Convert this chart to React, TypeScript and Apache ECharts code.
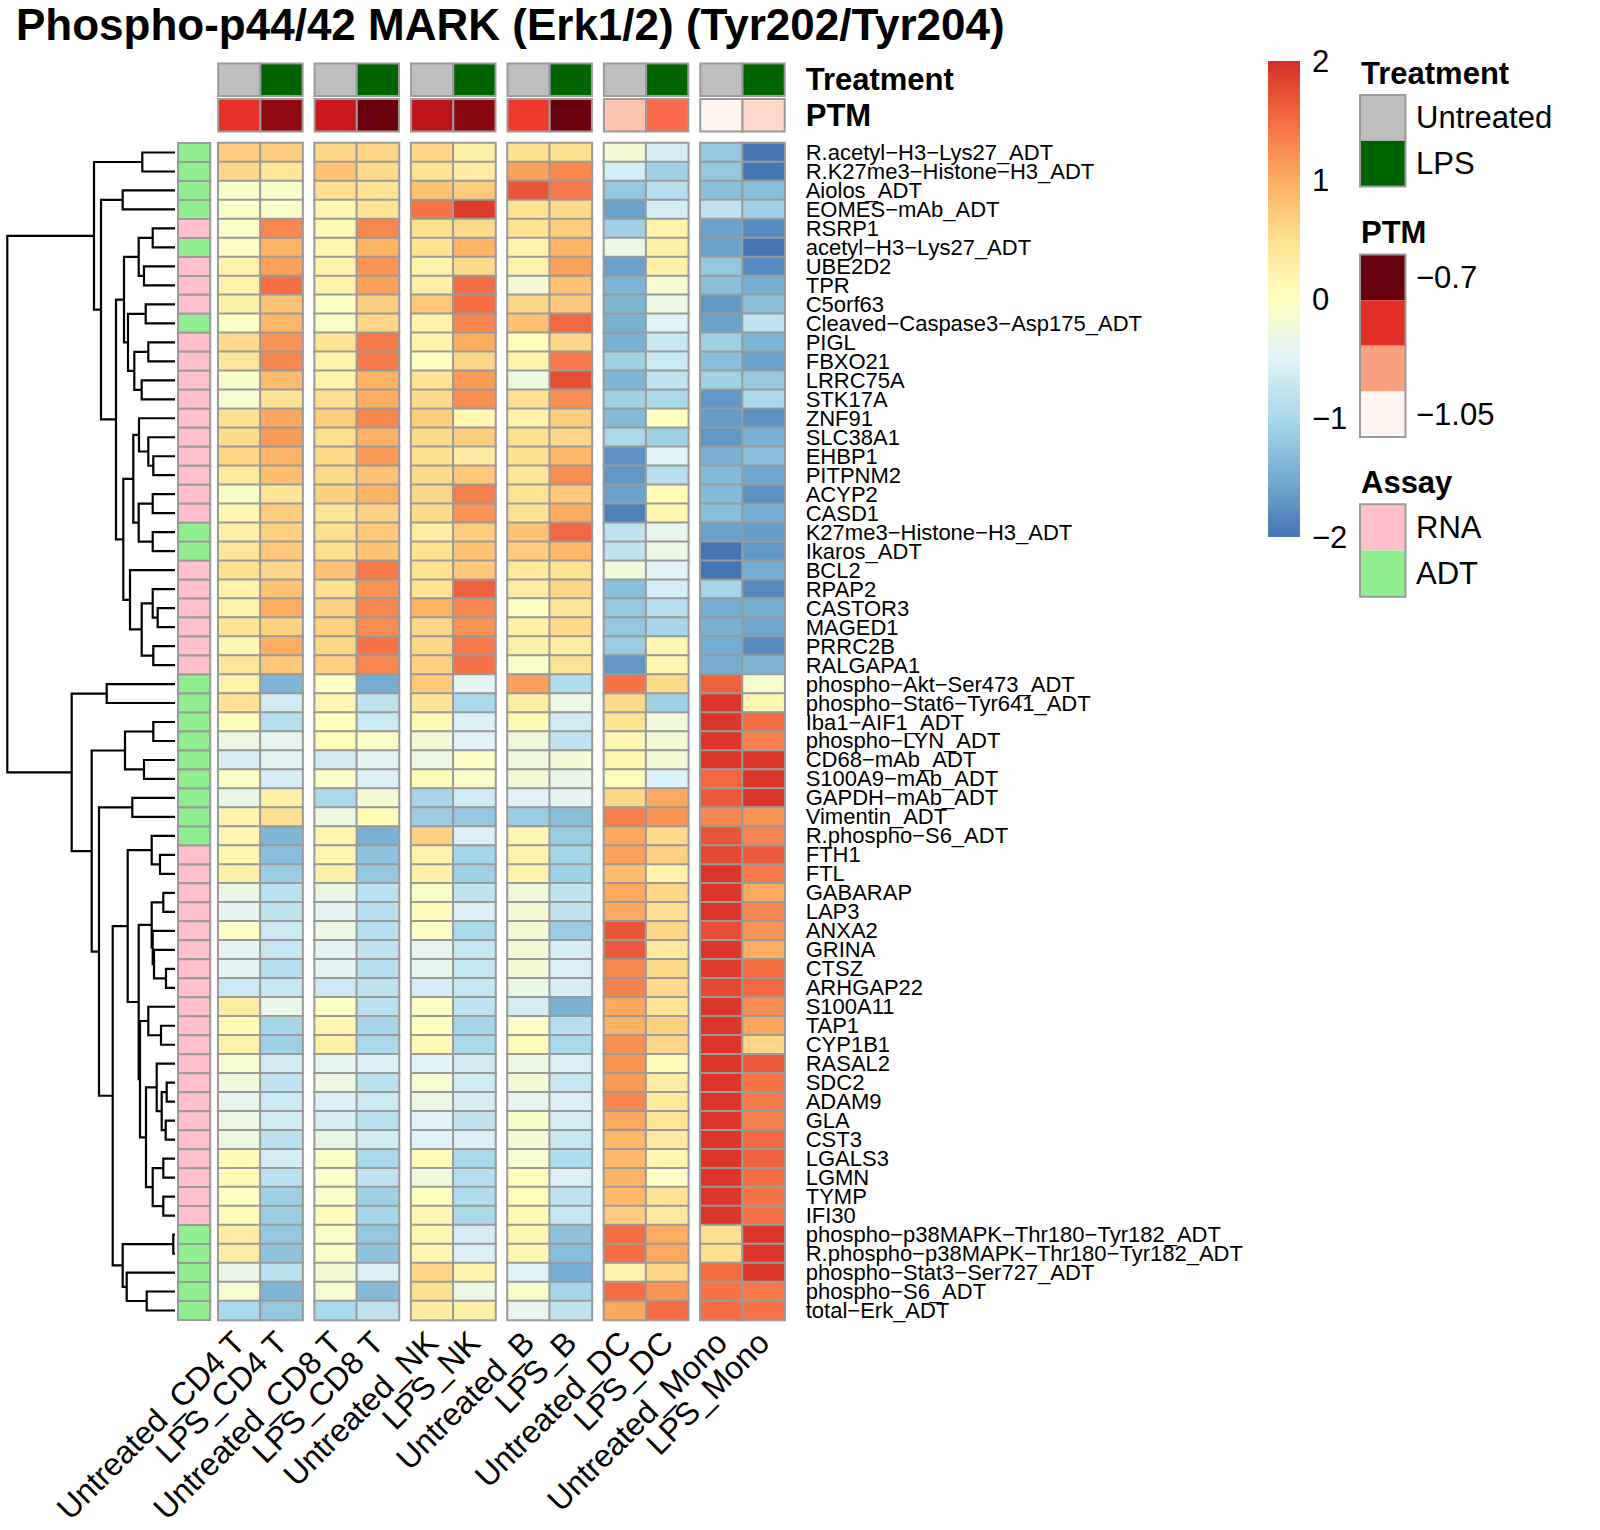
import React, { useEffect, useRef } from "react";
import * as echarts from "echarts";

// ---------------- data ----------------
const TITLE = "Phospho-p44/42 MARK (Erk1/2) (Tyr202/Tyr204)";

const columns = [
  "Untreated_CD4 T", "LPS_CD4 T", "Untreated_CD8 T", "LPS_CD8 T",
  "Untreated_NK", "LPS_NK", "Untreated_B", "LPS_B",
  "Untreated_DC", "LPS_DC", "Untreated_Mono", "LPS_Mono",
];

const treatment = [
  "Untreated", "LPS", "Untreated", "LPS", "Untreated", "LPS",
  "Untreated", "LPS", "Untreated", "LPS", "Untreated", "LPS",
];

const ptmValues = [-0.819, -0.728, -0.788, -0.703, -0.77, -0.724, -0.83, -0.703, -0.973, -0.875, -1.047, -0.998];

const M = "\u2212";
const rowNames = [
  `R.acetyl${M}H3${M}Lys27_ADT`, `R.K27me3${M}Histone${M}H3_ADT`, "Aiolos_ADT", `EOMES${M}mAb_ADT`,
  "RSRP1", `acetyl${M}H3${M}Lys27_ADT`, "UBE2D2", "TPR", "C5orf63", `Cleaved${M}Caspase3${M}Asp175_ADT`,
  "PIGL", "FBXO21", "LRRC75A", "STK17A", "ZNF91", "SLC38A1", "EHBP1", "PITPNM2", "ACYP2", "CASD1",
  `K27me3${M}Histone${M}H3_ADT`, "Ikaros_ADT", "BCL2", "RPAP2", "CASTOR3", "MAGED1", "PRRC2B", "RALGAPA1",
  `phospho${M}Akt${M}Ser473_ADT`, `phospho${M}Stat6${M}Tyr641_ADT`, `Iba1${M}AIF1_ADT`, `phospho${M}LYN_ADT`,
  `CD68${M}mAb_ADT`, `S100A9${M}mAb_ADT`, `GAPDH${M}mAb_ADT`, "Vimentin_ADT", `R.phospho${M}S6_ADT`,
  "FTH1", "FTL", "GABARAP", "LAP3", "ANXA2", "GRINA", "CTSZ", "ARHGAP22", "S100A11", "TAP1", "CYP1B1",
  "RASAL2", "SDC2", "ADAM9", "GLA", "CST3", "LGALS3", "LGMN", "TYMP", "IFI30",
  `phospho${M}p38MAPK${M}Thr180${M}Tyr182_ADT`, `R.phospho${M}p38MAPK${M}Thr180${M}Tyr182_ADT`,
  `phospho${M}Stat3${M}Ser727_ADT`, `phospho${M}S6_ADT`, `total${M}Erk_ADT`,
];

const assay = [
  "ADT", "ADT", "ADT", "ADT", "RNA", "ADT", "RNA", "RNA", "RNA", "ADT",
  "RNA", "RNA", "RNA", "RNA", "RNA", "RNA", "RNA", "RNA", "RNA", "RNA",
  "ADT", "ADT", "RNA", "RNA", "RNA", "RNA", "RNA", "RNA",
  "ADT", "ADT", "ADT", "ADT", "ADT", "ADT", "ADT", "ADT", "ADT",
  "RNA", "RNA", "RNA", "RNA", "RNA", "RNA", "RNA", "RNA", "RNA", "RNA", "RNA",
  "RNA", "RNA", "RNA", "RNA", "RNA", "RNA", "RNA", "RNA", "RNA",
  "ADT", "ADT", "ADT", "ADT", "ADT",
];

// rows x 12 columns (z-scores)
const values = [
  [0.7, 0.7, 0.6, 0.6, 0.6, 0.25, 0.5, 0.5, -0.2, -0.6, -1.2, -2.0],
  [0.6, 0.4, 0.8, 0.55, 0.45, 0.3, 1.1, 1.3, -0.6, -1.1, -1.2, -2.0],
  [-0.1, -0.1, 0.5, 0.45, 0.8, 0.7, 1.7, 1.4, -1.2, -0.9, -1.3, -1.3],
  [-0.1, -0.1, 0.15, 0.45, 1.45, 1.9, 0.45, 0.55, -1.6, -0.6, -0.8, -1.1],
  [-0.05, 1.3, 0.1, 1.3, 0.5, 0.55, 0.45, 0.7, -1.1, 0.2, -1.6, -1.8],
  [-0.05, 0.95, 0.15, 0.95, 0.45, 0.95, 0.2, 0.95, -0.3, 0.25, -1.6, -2.0],
  [0.2, 1.1, 0.2, 1.2, 0.2, 0.55, 0.2, 1.1, -1.6, 0.25, -1.2, -1.8],
  [0.2, 1.5, 0.2, 1.1, 0.25, 1.5, -0.2, 0.8, -1.4, -0.15, -1.3, -1.5],
  [0.25, 0.8, -0.05, 0.7, 0.75, 1.5, 0.6, 0.75, -1.4, -0.3, -1.7, -1.3],
  [-0.05, 0.9, -0.1, 0.6, 0.2, 1.3, 0.8, 1.55, -1.45, -0.5, -1.6, -0.8],
  [0.55, 1.2, 0.45, 1.4, 0.2, 1.0, 0.05, 0.6, -1.45, -0.75, -1.1, -1.4],
  [0.4, 1.3, 0.2, 1.4, 0.0, 0.6, 0.2, 1.4, -1.1, -0.7, -1.3, -1.6],
  [-0.1, 0.85, 0.2, 0.95, 0.45, 1.15, -0.3, 1.75, -1.4, -0.8, -1.1, -1.2],
  [-0.15, 0.45, 0.5, 1.0, 0.55, 1.25, 0.45, 1.25, -1.1, -1.0, -1.7, -1.0],
  [0.5, 1.05, 0.7, 1.3, 0.7, 0.15, 0.2, 0.7, -1.35, 0.0, -1.65, -1.75],
  [0.55, 1.15, 0.5, 0.95, 0.55, 0.7, 0.5, 0.6, -1.0, -1.1, -1.7, -1.45],
  [0.6, 0.95, 0.55, 1.15, 0.5, 0.3, 0.5, 0.9, -1.75, -0.5, -1.45, -1.3],
  [0.35, 0.85, 0.55, 0.8, 0.55, 0.75, 0.4, 1.25, -1.7, -0.9, -1.35, -1.55],
  [-0.1, 0.4, 0.65, 0.95, 0.6, 1.35, 0.45, 0.75, -1.6, 0.05, -1.35, -1.75],
  [0.15, 0.7, 0.4, 0.65, 0.55, 1.2, 0.45, 1.0, -1.9, 0.15, -1.3, -1.5],
  [0.25, 0.65, 0.5, 0.75, 0.3, 0.7, 0.8, 1.55, -0.8, -0.4, -1.6, -1.65],
  [0.4, 0.75, 0.5, 0.8, 0.45, 0.8, 0.7, 0.9, -0.8, -0.3, -2.0, -1.7],
  [0.5, 0.6, 0.8, 1.4, 0.45, 0.75, 0.35, 0.45, -0.25, -0.5, -2.0, -1.5],
  [0.2, 0.8, 0.5, 1.2, 0.45, 1.6, 0.3, 0.6, -1.3, -0.6, -1.05, -1.8],
  [0.2, 1.0, 0.65, 1.3, 0.95, 1.3, -0.05, 0.4, -1.2, -0.9, -1.5, -1.5],
  [0.45, 0.65, 0.65, 1.25, 0.6, 1.2, 0.25, 0.55, -1.2, -1.05, -1.45, -1.55],
  [0.15, 1.0, 0.6, 1.45, 0.6, 1.4, 0.25, 0.3, -1.15, 0.15, -1.5, -1.8],
  [0.4, 0.75, 0.65, 1.3, 0.65, 1.45, -0.1, 0.45, -1.7, 0.15, -1.5, -1.4],
  [0.2, -1.4, -0.05, -1.5, 0.75, -0.45, 1.1, -0.95, 1.45, 0.55, 1.6, -0.15],
  [0.45, -0.65, 0.15, -0.8, 0.4, -1.0, 0.3, -0.3, 0.55, -1.1, 1.95, 0.15],
  [0.05, -0.9, 0.0, -0.7, 0.1, -0.55, 0.1, -0.65, 0.45, -0.25, 1.95, 1.5],
  [-0.3, -0.4, 0.05, -0.05, -0.2, -0.5, -0.25, -0.8, 0.15, -0.2, 1.95, 1.35],
  [-0.6, -0.45, -0.65, -0.45, -0.3, -0.05, -0.25, -0.2, 0.15, -0.2, 1.95, 1.95],
  [-0.05, -0.6, -0.05, -0.55, 0.05, -0.1, -0.2, -0.35, 0.05, -0.55, 1.55, 1.95],
  [-0.35, 0.25, -1.0, -0.2, -1.05, -0.65, -0.5, -0.45, 0.6, 1.05, 1.65, 1.95],
  [0.2, 0.5, -0.3, 0.05, -1.15, -1.2, -1.15, -1.3, 1.35, 1.2, 1.3, 1.2],
  [0.15, -1.4, 0.15, -1.45, 0.65, -0.55, 0.15, -1.15, 1.05, 0.55, 1.7, 1.3],
  [0.15, -1.3, 0.15, -1.25, 0.2, -1.05, 0.2, -1.05, 1.1, 0.65, 1.8, 1.65],
  [0.25, -1.15, 0.25, -1.2, 0.25, -1.1, 0.2, -1.1, 0.85, 0.2, 1.95, 1.4],
  [-0.35, -0.85, -0.35, -0.85, -0.1, -0.8, -0.25, -0.8, 1.05, 0.6, 1.95, 1.05],
  [-0.45, -0.8, -0.45, -0.9, 0.05, -0.55, -0.2, -0.8, 1.05, 0.5, 1.95, 1.3],
  [-0.05, -0.7, -0.3, -0.9, -0.05, -1.0, -0.2, -1.15, 1.7, 0.6, 1.75, 1.2],
  [-0.45, -0.75, -0.45, -0.8, -0.4, -0.75, -0.2, -0.6, 1.65, 0.35, 1.95, 1.0],
  [-0.45, -0.9, -0.45, -0.9, -0.4, -0.75, -0.2, -0.55, 1.3, 0.55, 1.9, 1.5],
  [-0.7, -0.75, -0.7, -0.8, -0.6, -0.75, -0.35, -0.6, 1.35, 0.55, 1.8, 1.55],
  [0.3, -0.35, -0.05, -0.85, -0.05, -0.8, -0.6, -1.45, 1.05, 0.4, 1.95, 1.25],
  [0.1, -1.05, 0.15, -1.05, 0.0, -1.05, -0.05, -0.9, 0.95, 0.65, 1.95, 1.05],
  [0.2, -1.1, 0.25, -1.0, 0.1, -1.0, 0.05, -1.0, 1.25, 0.6, 1.95, 0.6],
  [-0.15, -0.65, -0.4, -0.55, -0.5, -0.65, -0.3, -0.55, 1.2, 0.05, 1.95, 1.65],
  [-0.25, -0.8, -0.3, -0.85, -0.15, -0.65, -0.2, -0.75, 1.15, 0.3, 1.95, 1.45],
  [-0.4, -0.7, -0.55, -0.7, -0.3, -0.6, -0.4, -0.55, 1.3, 0.35, 1.95, 1.4],
  [-0.3, -0.65, -0.6, -0.85, -0.5, -0.8, -0.1, -0.6, 1.05, 0.4, 1.95, 1.35],
  [-0.3, -0.85, -0.35, -0.65, -0.5, -0.55, -0.2, -0.75, 0.9, 0.35, 1.95, 1.55],
  [0.1, -0.6, -0.1, -1.0, 0.05, -1.0, -0.15, -0.95, 0.9, 0.15, 1.95, 1.6],
  [0.1, -0.85, -0.1, -0.8, -0.25, -0.9, 0.05, -0.55, 0.95, -0.05, 1.95, 1.5],
  [-0.05, -1.1, -0.1, -1.1, 0.0, -0.95, 0.05, -0.8, 0.9, 0.45, 1.95, 1.45],
  [0.05, -1.15, 0.05, -1.05, 0.15, -1.0, 0.1, -0.75, 0.7, 0.35, 1.95, 1.45],
  [0.3, -1.2, -0.05, -1.2, 0.15, -0.6, 0.15, -1.25, 1.5, 1.0, 0.5, 1.95],
  [0.3, -1.25, -0.05, -1.25, 0.15, -0.55, 0.15, -1.3, 1.5, 1.05, 0.5, 1.95],
  [-0.35, -0.85, -0.2, -0.55, 0.6, 0.2, -0.5, -1.5, 0.2, 0.6, 1.5, 1.95],
  [-0.15, -1.4, -0.15, -1.35, 0.5, -0.3, -0.1, -1.05, 1.5, 1.2, 1.45, 1.4],
  [-1.0, -1.2, -1.0, -0.8, 0.3, 0.25, -0.4, -0.8, 1.05, 1.5, 1.5, 1.45],
];

// row dendrogram: [left, right, mergeHeight]; leaves are row indices
const dendrogram: any = [
  [
    [0, 1, 32.7],
    [
      [2, 3, 52.3],
      [
        [
          [[4, 5, 22.3], [6, 7, 31], 36.3],
          [[8, 9, 29.3], [[10, 11, 26.7], [12, 13, 33.3], 40.7], 47],
          51,
        ],
        [
          [
            [14, [15, [16, 17, 21.7], 26.7], 36],
            [[18, 19, 22.3], [20, 21, 22.3], 36.3],
            41.7,
          ],
          [22, [[23, [24, 25, 17.3], 22.3], [26, 27, 21.7], 33.3], 45],
          51.7,
        ],
        59,
      ],
      74,
    ],
    81,
  ],
  [
    [28, 29, 68.3],
    [
      [[30, 31, 21.7], [32, 33, 31], 50],
      [
        [34, 35, 42.7],
        [
          [
            [36, [37, 38, 15], 23.3],
            [
              [[39, 40, 11.7], [41, [42, [43, 44, 9], 21], 22.3], 23.3],
              [
                [45, [46, 47, 14], 26.7],
                [
                  [48, [[49, 50, 8.3], [51, 52, 9.3], 13.3], 18.3],
                  [[53, 54, 11.7], [55, 56, 11.7], 22.3],
                  29,
                ],
                35,
              ],
              36.3,
            ],
            47.3,
          ],
          [[57, 58, 1.7], [59, [60, 61, 28.3], 48.3], 52.3],
          62.3,
        ],
        76,
      ],
      83.3,
    ],
    103.3,
  ],
  167.7,
];

const colorBarTicks = [2, 1, 0, -1, -2];
const treatmentLevels = ["Untreated", "LPS"];
const ptmLegendLevels = [-0.7, -0.8167, -0.9333, -1.05];
const ptmLegendLabels = [-0.7, null, null, -1.05];
const assayLevels = ["RNA", "ADT"];

// ---------------- styles ----------------
const FONT = "Liberation Sans";
const HEAT_COLORS = ["#4575B4", "#74ADD1", "#ABD9E9", "#E0F3F8", "#FFFFBF", "#FEE090", "#FDAE61", "#F46D43", "#D73027"];
const REDS = ["#FFF5F0", "#FEE0D2", "#FCBBA1", "#FC9272", "#FB6A4A", "#EF3B2C", "#CB181D", "#A50F15", "#67000D"];
const PTM_MIN = -1.05;
const PTM_MAX = -0.7;
const TREAT_COLORS: Record<string, string> = { Untreated: "#BEBEBE", LPS: "#006400" };
const ASSAY_COLORS: Record<string, string> = { RNA: "#FFC0CB", ADT: "#90EE90" };
const CELL_BORDER = "#9a9a9a";

const GROUP_LEFT = [218.2, 314.6, 411.1, 507.5, 603.9, 700.3];
const GROUP_W = 84.4;
const HM_TOP = 143;
const HM_H = 1177;

const fmt = (v: number) => (v < 0 ? "\u2212" + String(Math.abs(v)) : String(v));

function hexToRgb(h: string) {
  const n = parseInt(h.slice(1), 16);
  return [(n >> 16) & 255, (n >> 8) & 255, n & 255];
}
function ptmColor(v: number) {
  let t = (v - PTM_MIN) / (PTM_MAX - PTM_MIN);
  t = Math.max(0, Math.min(1, t));
  const pos = t * (REDS.length - 1);
  const i = Math.min(REDS.length - 2, Math.floor(pos));
  const f = pos - i;
  const a = hexToRgb(REDS[i]);
  const b = hexToRgb(REDS[i + 1]);
  const c = a.map((x, k) => Math.round(x + (b[k] - x) * f));
  return `rgb(${c[0]},${c[1]},${c[2]})`;
}

function dendroSegments(tree: any) {
  const segs: number[][][] = [];
  const walk = (node: any): { y: number; h: number } => {
    if (typeof node === "number") return { y: node, h: 0 };
    const a = walk(node[0]);
    const b = walk(node[1]);
    const h = node[2];
    segs.push([[a.h, a.y], [h, a.y], [h, b.y], [b.h, b.y]]);
    return { y: (a.y + b.y) / 2, h };
  };
  walk(tree);
  return segs;
}

function buildOption() {
  const nG = GROUP_LEFT.length;
  const grids: any[] = [];
  const xAxes: any[] = [];
  const yAxes: any[] = [];
  const series: any[] = [];
  const hidden = { axisLine: { show: false }, axisTick: { show: false }, splitLine: { show: false } };

  // main heatmap grids
  GROUP_LEFT.forEach((left, g) => {
    grids.push({ left, top: HM_TOP, width: GROUP_W, height: HM_H });
    xAxes.push({
      type: "category", gridIndex: g, data: [columns[2 * g], columns[2 * g + 1]], position: "bottom", ...hidden,
      axisLabel: { interval: 0, rotate: 45, fontSize: 32, fontFamily: FONT, color: "#000", margin: 17 },
    });
    yAxes.push({
      type: "category", gridIndex: g, data: rowNames, inverse: true, position: "right", ...hidden,
      axisLabel: g === nG - 1
        ? { show: true, interval: 0, fontSize: 22, lineHeight: 18, fontFamily: FONT, color: "#000", margin: 21 }
        : { show: false },
    });
    const data: number[][] = [];
    rowNames.forEach((_, r) => {
      [0, 1].forEach((c) => data.push([c, r, values[r][2 * g + c]]));
    });
    series.push({
      type: "heatmap", xAxisIndex: g, yAxisIndex: g, data, silent: true,
      itemStyle: { borderColor: CELL_BORDER, borderWidth: 2 },
      emphasis: { disabled: true },
    });
  });

  // top annotation grids (Treatment, PTM)
  GROUP_LEFT.forEach((left, g) => {
    const gi = nG + g;
    grids.push({ left, top: 62, width: GROUP_W, height: 71 });
    xAxes.push({ type: "category", gridIndex: gi, data: [columns[2 * g], columns[2 * g + 1]], show: false });
    yAxes.push({
      type: "category", gridIndex: gi, data: ["Treatment", "PTM"], inverse: true, position: "right", ...hidden,
      show: g === nG - 1,
      axisLabel: { interval: 0, fontSize: 31, fontWeight: "bold", fontFamily: FONT, color: "#000", margin: 21 },
    });
    series.push({
      type: "custom", xAxisIndex: gi, yAxisIndex: gi, silent: true,
      data: [[0, 0], [1, 0], [0, 1], [1, 1]],
      renderItem: (params: any, api: any) => {
        const c = api.value(0);
        const r = api.value(1);
        const col = 2 * g + c;
        const fill = r === 0 ? TREAT_COLORS[treatment[col]] : ptmColor(ptmValues[col]);
        const p = api.coord([c, r]);
        const s = api.size([1, 1]);
        const inset = 1.6;
        return {
          type: "rect",
          shape: { x: p[0] - s[0] / 2, y: p[1] - s[1] / 2 + inset, width: s[0], height: s[1] - 2 * inset },
          style: { fill, stroke: CELL_BORDER, lineWidth: 2 },
        };
      },
    });
  });

  // assay column
  const ai = 2 * nG;
  grids.push({ left: 178, top: HM_TOP, width: 32.2, height: HM_H });
  xAxes.push({ type: "category", gridIndex: ai, data: ["Assay"], show: false });
  yAxes.push({ type: "category", gridIndex: ai, data: rowNames, inverse: true, show: false });
  series.push({
    type: "custom", xAxisIndex: ai, yAxisIndex: ai, silent: true,
    data: rowNames.map((_, r) => [0, r]),
    renderItem: (params: any, api: any) => {
      const r = api.value(1);
      const p = api.coord([0, r]);
      const s = api.size([1, 1]);
      return {
        type: "rect",
        shape: { x: p[0] - s[0] / 2, y: p[1] - s[1] / 2, width: s[0], height: s[1] },
        style: { fill: ASSAY_COLORS[assay[r]], stroke: CELL_BORDER, lineWidth: 2 },
      };
    },
  });

  // dendrogram
  const di = 2 * nG + 1;
  const segs = dendroSegments(dendrogram);
  const rootH = dendrogram[2];
  grids.push({ left: 175 - rootH, top: HM_TOP, width: rootH, height: HM_H });
  xAxes.push({ type: "value", gridIndex: di, min: 0, max: rootH, inverse: true, show: false });
  yAxes.push({ type: "value", gridIndex: di, min: -0.5, max: rowNames.length - 0.5, inverse: true, show: false });
  series.push({
    type: "custom", xAxisIndex: di, yAxisIndex: di, silent: true, clip: false,
    data: segs.map((s) => [s[1][0], s[1][1]]),
    renderItem: (params: any, api: any) => {
      const pts = segs[params.dataIndex].map((pt) => api.coord(pt));
      return {
        type: "polyline",
        shape: { points: pts },
        style: { stroke: "#000", lineWidth: 2.2, fill: null },
      };
    },
  });

  // legends & title (graphic)
  const graphic: any[] = [];
  graphic.push({
    type: "text", x: 16, y: 24,
    style: { text: TITLE, fontSize: 44, fontWeight: "bold", fontFamily: FONT, fill: "#000", verticalAlign: "middle", align: "left" },
  });
  const barTop = 61, barH = 476, barX = 1268, barW = 32;
  const stops = HEAT_COLORS.slice().reverse().map((c, i) => ({ offset: i / (HEAT_COLORS.length - 1), color: c }));
  graphic.push({
    type: "rect", shape: { x: barX, y: barTop, width: barW, height: barH },
    style: { fill: new echarts.graphic.LinearGradient(0, 0, 0, 1, stops) },
  });
  colorBarTicks.forEach((v) => {
    graphic.push({
      type: "text", x: 1312, y: barTop + ((2 - v) / 4) * barH,
      style: { text: fmt(v), fontSize: 31, fontFamily: FONT, fill: "#000", verticalAlign: "middle", align: "left" },
    });
  });

  const boxX = 1360, boxW = 45.5, labX = 1416, titleX = 1361;
  const addTitle = (t: string, y: number) =>
    graphic.push({ type: "text", x: titleX, y, style: { text: t, fontSize: 31, fontWeight: "bold", fontFamily: FONT, fill: "#000", verticalAlign: "middle" } });
  const addLabel = (t: string, y: number) =>
    graphic.push({ type: "text", x: labX, y, style: { text: t, fontSize: 31, fontFamily: FONT, fill: "#000", verticalAlign: "middle" } });
  const addBoxes = (colors: string[], y0: number, bh: number) => {
    colors.forEach((c, i) => graphic.push({ type: "rect", shape: { x: boxX, y: y0 + i * bh, width: boxW, height: bh }, style: { fill: c } }));
    graphic.push({ type: "rect", shape: { x: boxX, y: y0, width: boxW, height: bh * colors.length }, style: { fill: "none", stroke: CELL_BORDER, lineWidth: 2 } });
  };

  addTitle("Treatment", 73);
  addBoxes(treatmentLevels.map((l) => TREAT_COLORS[l]), 95, 45.7);
  treatmentLevels.forEach((l, i) => addLabel(l, 95 + (i + 0.5) * 45.7));

  addTitle("PTM", 232);
  addBoxes(ptmLegendLevels.map((v) => ptmColor(v)), 254.6, 45.6);
  ptmLegendLabels.forEach((v, i) => { if (v !== null) addLabel(fmt(v), 254.6 + (i + 0.5) * 45.6); });

  addTitle("Assay", 482);
  addBoxes(assayLevels.map((l) => ASSAY_COLORS[l]), 504.3, 46.25);
  assayLevels.forEach((l, i) => addLabel(l, 504.3 + (i + 0.5) * 46.25));

  return {
    animation: false,
    backgroundColor: "#ffffff",
    textStyle: { fontFamily: FONT },
    grid: grids,
    xAxis: xAxes,
    yAxis: yAxes,
    visualMap: {
      type: "continuous", show: false, min: -2, max: 2, dimension: 2,
      seriesIndex: GROUP_LEFT.map((_, g) => g),
      inRange: { color: HEAT_COLORS },
    },
    series,
    graphic,
  };
}

export default function App() {
  const ref = useRef<HTMLDivElement>(null);
  useEffect(() => {
    if (!ref.current) return;
    const chart = echarts.init(ref.current, null, { renderer: "svg" });
    chart.setOption(buildOption() as any);
    return () => chart.dispose();
  }, []);
  return (
    <div
      ref={ref}
      style={{ position: "absolute", left: 0, top: 0, width: 1600, height: 1530, background: "#fff" }}
    />
  );
}
